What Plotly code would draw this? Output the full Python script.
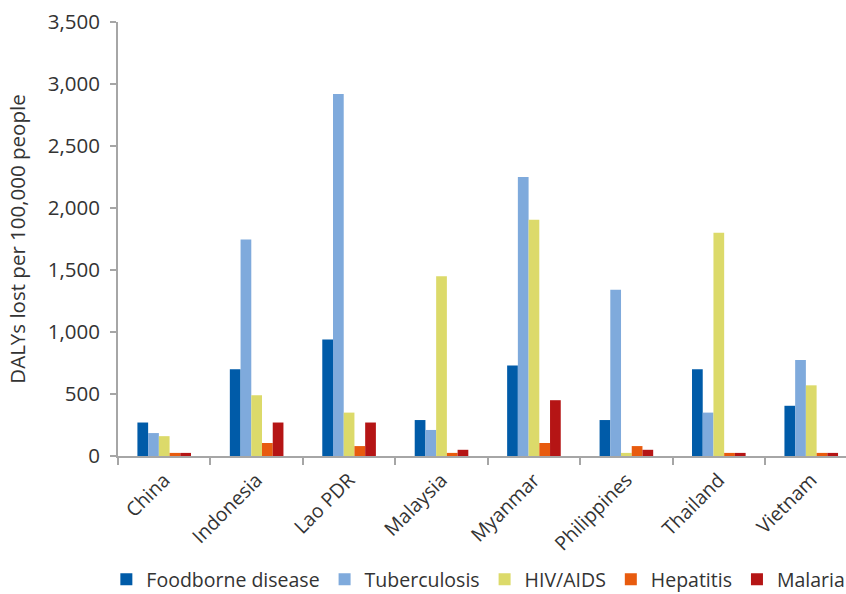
import plotly.graph_objects as go

countries = ["China", "Indonesia", "Lao PDR", "Malaysia", "Myanmar",
             "Philippines", "Thailand", "Vietnam"]

foodborne = [270, 700, 940, 290, 730, 290, 700, 405]
tuberculosis = [185, 1745, 2920, 210, 2250, 1340, 350, 775]
hiv_aids = [160, 490, 350, 1450, 1905, 25, 1800, 570]
hepatitis = [25, 105, 80, 25, 105, 80, 25, 25]
malaria = [25, 270, 270, 50, 450, 50, 25, 25]

series = [
    ("Foodborne disease", foodborne, "#005BA8"),
    ("Tuberculosis", tuberculosis, "#7FAADC"),
    ("HIV/AIDS", hiv_aids, "#DCDA6A"),
    ("Hepatitis", hepatitis, "#E85B0E"),
    ("Malaria", malaria, "#B51515"),
]

y_ticks = [0, 500, 1000, 1500, 2000, 2500, 3000, 3500]

FONT = "Open Sans"
TEXT = "#333333"
AXIS = "#A6A6A6"

fig = go.Figure()
for name, vals, color in series:
    fig.add_trace(go.Bar(x=countries, y=vals, name=name,
                         marker=dict(color=color, line=dict(width=0))))

fig.update_layout(
    width=846, height=594,
    margin=dict(l=117.5, r=0, t=22, b=137.5, autoexpand=False),
    paper_bgcolor="white", plot_bgcolor="white",
    barmode="group", bargap=0.42, bargroupgap=0,
    font=dict(family=FONT, size=20, color=TEXT),
    showlegend=True,
    legend=dict(orientation="h", x=-0.016, xanchor="left",
                y=-0.24, yanchor="top",
                font=dict(family=FONT, size=19.5, color=TEXT),
                itemwidth=30, traceorder="normal"),
)

fig.update_xaxes(
    range=[-0.5, 7.376], automargin=False,
    showline=True, linecolor=AXIS, linewidth=2,
    ticks="outside", tickson="boundaries", ticklen=7, tickwidth=2,
    tickcolor=AXIS, tickangle=-45, showgrid=False,
    tickfont=dict(family=FONT, size=19.5, color=TEXT),
    ticklabelstandoff=3,
)

fig.update_yaxes(
    range=[0, 3500], tickvals=y_ticks, automargin=False,
    ticktext=[f"{v:,}" for v in y_ticks],
    showline=True, linecolor=AXIS, linewidth=2,
    ticks="outside", ticklen=6, tickwidth=2, tickcolor=AXIS,
    showgrid=False, zeroline=False,
    tickfont=dict(family=FONT, size=20.5, color=TEXT),
    ticklabelstandoff=6,
    title=dict(text="DALYs lost per 100,000 people",
               font=dict(family=FONT, size=20.5, color=TEXT), standoff=17),
)

fig.write_html("out.html")
